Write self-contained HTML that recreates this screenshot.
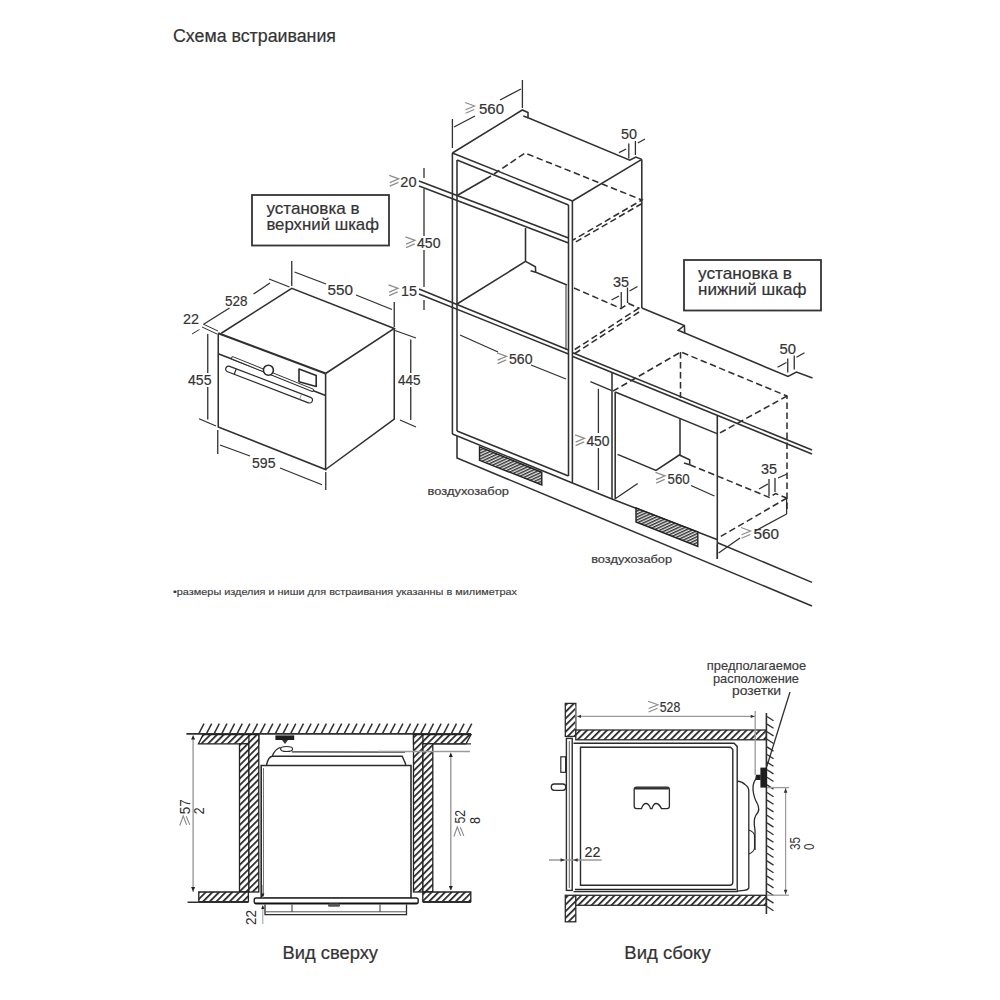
<!DOCTYPE html>
<html><head><meta charset="utf-8"><style>
html,body{margin:0;padding:0;background:#fff;}
svg{display:block;font-family:"Liberation Sans",sans-serif;}
</style></head><body>
<svg width="1000" height="1000" viewBox="0 0 1000 1000">
<rect width="1000" height="1000" fill="#fff"/>
<text x="173" y="42" font-size="17.5" fill="#333" text-anchor="start" textLength="163" lengthAdjust="spacingAndGlyphs" font-weight="normal"  stroke="#333" stroke-width="0.2">Схема встраивания</text>
<path d="M221.25,333.25 L291.75,288.25 L394.25,328.5 L325.6,373.5" fill="none" stroke="#303030" stroke-width="1.55" />
<path d="M218.25,333.25 L325.6,373.5" fill="none" stroke="#303030" stroke-width="2.0" />
<path d="M218.25,333.25 L218.25,427 L325.6,469.5 L325.6,373.5" fill="none" stroke="#303030" stroke-width="1.55" />
<path d="M325.6,469.5 L394.25,419 L394.25,328.5" fill="none" stroke="#303030" stroke-width="1.55" />
<path d="M218.25,353.8 L325.6,395.5" fill="none" stroke="#303030" stroke-width="1.6" />
<g transform="translate(231.7,357.6) rotate(22)"><rect x="0" y="-1.3" width="88" height="2.6" rx="1.3" fill="#fff" stroke="#2b2b2b" stroke-width="1.0"/></g>
<g transform="translate(225.9,368) rotate(21)"><rect x="0" y="-2.9" width="92.5" height="5.8" rx="2.9" fill="#fff" stroke="#2b2b2b" stroke-width="1.2"/><line x1="10" y1="-2.9" x2="10" y2="2.9" stroke="#2b2b2b" stroke-width="1.2"/><line x1="80" y1="-2.9" x2="80" y2="2.9" stroke="#888" stroke-width="0.8"/></g>
<circle cx="268.4" cy="370.2" r="5" fill="#fff" stroke="#2b2b2b" stroke-width="1.6"/>
<path d="M299,369.1 L316.2,375.5 L316.2,386.4 L299,381.8 Z" fill="#fff" stroke="#2b2b2b" stroke-width="1.6" stroke-linejoin="round"/>
<path d="M203,324 L218,331" fill="none" stroke="#303030" stroke-width="1.0" />
<path d="M202,327 L217,334" fill="none" stroke="#303030" stroke-width="1.0" />
<path d="M192,334 L199.5,329.5" fill="none" stroke="#303030" stroke-width="1.0" />
<text x="183" y="323.5" font-size="15.5" fill="#333" text-anchor="start" textLength="16" lengthAdjust="spacingAndGlyphs" font-weight="normal"  stroke="#333" stroke-width="0.2">22</text>
<path d="M204,324 L229.5,308" fill="none" stroke="#303030" stroke-width="1.3" />
<path d="M253.5,294 L270,283" fill="none" stroke="#303030" stroke-width="1.3" />
<path d="M269,279 L289.5,287" fill="none" stroke="#303030" stroke-width="1.3" />
<text x="225" y="305.5" font-size="15.5" fill="#333" text-anchor="start" textLength="22.5" lengthAdjust="spacingAndGlyphs" font-weight="normal"  stroke="#333" stroke-width="0.2">528</text>
<path d="M291.75,261 L291.75,286" fill="none" stroke="#303030" stroke-width="1.3" />
<path d="M394.25,302 L394.25,327" fill="none" stroke="#303030" stroke-width="1.3" />
<path d="M294.5,272 L326,284" fill="none" stroke="#303030" stroke-width="1.3" />
<path d="M356,295 L392,309.5" fill="none" stroke="#303030" stroke-width="1.3" />
<text x="327.5" y="294.5" font-size="15.5" fill="#333" text-anchor="start" textLength="25.5" lengthAdjust="spacingAndGlyphs" font-weight="normal"  stroke="#333" stroke-width="0.2">550</text>
<path d="M207.75,334 L207.75,373" fill="none" stroke="#303030" stroke-width="1.3" />
<path d="M207.75,387 L207.75,419.5" fill="none" stroke="#303030" stroke-width="1.3" />
<path d="M199,418.75 L216,426" fill="none" stroke="#303030" stroke-width="1.3" />
<text x="188" y="385" font-size="15.5" fill="#333" text-anchor="start" textLength="23.5" lengthAdjust="spacingAndGlyphs" font-weight="normal"  stroke="#333" stroke-width="0.2">455</text>
<path d="M217.75,430 L217.75,454" fill="none" stroke="#303030" stroke-width="1.3" />
<path d="M325.75,472 L325.75,490" fill="none" stroke="#303030" stroke-width="1.3" />
<path d="M220,445 L250,456" fill="none" stroke="#303030" stroke-width="1.3" />
<path d="M280,468 L322,484.75" fill="none" stroke="#303030" stroke-width="1.3" />
<text x="252" y="468" font-size="15.5" fill="#333" text-anchor="start" textLength="23.5" lengthAdjust="spacingAndGlyphs" font-weight="normal"  stroke="#333" stroke-width="0.2">595</text>
<path d="M395,330.5 L416,338" fill="none" stroke="#303030" stroke-width="1.3" />
<path d="M410.75,339.5 L410.75,373" fill="none" stroke="#303030" stroke-width="1.3" />
<path d="M410.75,387 L410.75,420" fill="none" stroke="#303030" stroke-width="1.3" />
<path d="M400,420 L416,427" fill="none" stroke="#303030" stroke-width="1.3" />
<text x="398" y="385.25" font-size="15.5" fill="#333" text-anchor="start" textLength="22.5" lengthAdjust="spacingAndGlyphs" font-weight="normal"  stroke="#333" stroke-width="0.2">445</text>
<rect x="252" y="195" width="137" height="50.5" fill="none" stroke="#333" stroke-width="1.8"/>
<text x="266.4" y="213.6" font-size="17" fill="#333" text-anchor="start" textLength="93.2" lengthAdjust="spacingAndGlyphs" font-weight="normal"  stroke="#333" stroke-width="0.2">установка в</text>
<text x="266.4" y="230" font-size="17" fill="#333" text-anchor="start" textLength="112.6" lengthAdjust="spacingAndGlyphs" font-weight="normal"  stroke="#333" stroke-width="0.2">верхний шкаф</text>
<path d="M452.4,153 L452.4,434" fill="none" stroke="#303030" stroke-width="1.55" />
<path d="M457,160 L457,431" fill="none" stroke="#303030" stroke-width="1.55" />
<path d="M572.4,201 L572.4,483" fill="none" stroke="#303030" stroke-width="1.55" />
<path d="M568.5,205 L568.5,476" fill="none" stroke="#303030" stroke-width="1.55" />
<path d="M452.4,153 L572.4,201" fill="none" stroke="#303030" stroke-width="1.55" />
<path d="M457,160 L568.5,205" fill="none" stroke="#303030" stroke-width="1.55" />
<path d="M452.4,153 L522.3,110 L528,112.6 L528,117.8 L629.8,160.2 L635.8,157 L641.8,159.4" fill="none" stroke="#303030" stroke-width="1.55" />
<path d="M523.3,116 L528,117.8" fill="none" stroke="#303030" stroke-width="1.5" />
<path d="M641.8,159.4 L641.8,308" fill="none" stroke="#303030" stroke-width="1.55" />
<path d="M572.4,201 L641.8,159.4" fill="none" stroke="#303030" stroke-width="1.55" />
<path d="M419,181 L568.5,238" fill="none" stroke="#303030" stroke-width="1.55" />
<path d="M419,186 L568.5,243" fill="none" stroke="#303030" stroke-width="1.55" />
<path d="M458,195 L491,176" fill="none" stroke="#303030" stroke-width="1.55" />
<path d="M494,174 L525,153 L642,200 L573,240" fill="none" stroke="#303030" stroke-width="1.55" stroke-dasharray="6.5 3.5" />
<path d="M642,203.5 L573,243.5" fill="none" stroke="#303030" stroke-width="1.55" stroke-dasharray="6.5 3.5" />
<path d="M525.5,228 L525.5,261.4" fill="none" stroke="#303030" stroke-width="1.55" />
<path d="M457,304 L525.5,261.4 L535.4,266.8 L535.7,272.2 L567,285" fill="none" stroke="#303030" stroke-width="1.55" />
<path d="M530.6,270.7 L535.7,272.2" fill="none" stroke="#303030" stroke-width="1.5" />
<path d="M566,285 L566,350" fill="none" stroke="#777" stroke-width="1.55" />
<path d="M419,289 L568.5,350" fill="none" stroke="#303030" stroke-width="1.55" />
<path d="M419,294 L568.5,354" fill="none" stroke="#303030" stroke-width="1.55" />
<path d="M574,288 L621,308.5 L628.5,303.5 L639.5,308.3" fill="none" stroke="#303030" stroke-width="1.55" stroke-dasharray="6.5 3.5" />
<path d="M639,308 L574,350" fill="none" stroke="#303030" stroke-width="1.55" stroke-dasharray="6.5 3.5" />
<path d="M639,312 L574,354" fill="none" stroke="#303030" stroke-width="1.55" stroke-dasharray="6.5 3.5" />
<path d="M452.4,434 L572.4,483 L612,499 L717.6,539.8" fill="none" stroke="#303030" stroke-width="1.55" />
<path d="M717.6,542.8 L812,582.4" fill="none" stroke="#303030" stroke-width="1.55" />
<path d="M457,431 L568.5,476" fill="none" stroke="#303030" stroke-width="1.55" />
<path d="M457,436 L457,458 L812,606" fill="none" stroke="#303030" stroke-width="1.55" />
<defs><pattern id="vh" patternUnits="userSpaceOnUse" width="2.7" height="2.7" patternTransform="rotate(65)"><rect width="2.7" height="2.7" fill="#e8e8e8"/><rect width="1.4" height="2.7" fill="#333"/></pattern><pattern id="hh" patternUnits="userSpaceOnUse" width="6.5" height="6.5" patternTransform="rotate(45)"><rect width="6.5" height="6.5" fill="#fff"/><rect width="1.5" height="6.5" fill="#2b2b2b"/></pattern><pattern id="hh2" patternUnits="userSpaceOnUse" width="4.7" height="4.7" patternTransform="rotate(45)"><rect width="4.7" height="4.7" fill="#fff"/><rect width="1.7" height="4.7" fill="#222"/></pattern></defs>
<path d="M479.5,446.8 L541.8,472.3 L541.8,485 L479.5,460.3 Z" fill="url(#vh)" stroke="#222" stroke-width="1.4"/>
<path d="M636,508 L697.8,532 L697.8,546.4 L636,522 Z" fill="url(#vh)" stroke="#222" stroke-width="1.4"/>
<text x="427.6" y="495.3" font-size="11" fill="#3a3a3a" text-anchor="start" textLength="81.4" lengthAdjust="spacingAndGlyphs" font-weight="normal" stroke="#3a3a3a" stroke-width="0.2">воздухозабор</text>
<text x="591.2" y="563" font-size="11" fill="#3a3a3a" text-anchor="start" textLength="80.9" lengthAdjust="spacingAndGlyphs" font-weight="normal" stroke="#3a3a3a" stroke-width="0.2">воздухозабор</text>
<path d="M452.4,119 L452.4,148" fill="none" stroke="#303030" stroke-width="1.3" />
<path d="M522.4,80 L522.4,108" fill="none" stroke="#303030" stroke-width="1.3" />
<path d="M454,127 L475,116" fill="none" stroke="#303030" stroke-width="1.3" />
<path d="M500,100 L521,89" fill="none" stroke="#303030" stroke-width="1.3" />
<path d="M465.0,102.5 L474.6,106.0 L465.6,109.7 M465.6,113.2 L474.2,109.5" fill="none" stroke="#8c8c8c" stroke-width="1.15"/>
<text x="479" y="113.6" font-size="15.5" fill="#333" text-anchor="start" textLength="25" lengthAdjust="spacingAndGlyphs" font-weight="normal"  stroke="#333" stroke-width="0.2">560</text>
<path d="M424,168 L424,178" fill="none" stroke="#303030" stroke-width="1.3" />
<path d="M424,189 L424,236" fill="none" stroke="#303030" stroke-width="1.3" />
<path d="M424,250 L424,287" fill="none" stroke="#303030" stroke-width="1.3" />
<path d="M424,300 L424,310" fill="none" stroke="#303030" stroke-width="1.3" />
<path d="M389.2,175.4 L398.8,178.9 L389.8,182.6 M389.8,186.1 L398.4,182.4" fill="none" stroke="#8c8c8c" stroke-width="1.15"/>
<text x="400.3" y="186.5" font-size="15.5" fill="#333" text-anchor="start" textLength="16.2" lengthAdjust="spacingAndGlyphs" font-weight="normal"  stroke="#333" stroke-width="0.2">20</text>
<path d="M405.5,236.9 L415.1,240.4 L406.1,244.1 M406.1,247.6 L414.7,243.9" fill="none" stroke="#8c8c8c" stroke-width="1.15"/>
<text x="417" y="248" font-size="15.5" fill="#333" text-anchor="start" textLength="23.5" lengthAdjust="spacingAndGlyphs" font-weight="normal"  stroke="#333" stroke-width="0.2">450</text>
<path d="M388.5,284.9 L398.1,288.4 L389.1,292.1 M389.1,295.6 L397.7,291.9" fill="none" stroke="#8c8c8c" stroke-width="1.15"/>
<text x="401" y="296" font-size="15.5" fill="#333" text-anchor="start" textLength="16" lengthAdjust="spacingAndGlyphs" font-weight="normal"  stroke="#333" stroke-width="0.2">15</text>
<text x="621" y="139" font-size="15.5" fill="#333" text-anchor="start" textLength="16" lengthAdjust="spacingAndGlyphs" font-weight="normal"  stroke="#333" stroke-width="0.2">50</text>
<path d="M628.8,143.4 L628.8,158.6" fill="none" stroke="#303030" stroke-width="1.3" />
<path d="M635.4,141 L635.4,155" fill="none" stroke="#303030" stroke-width="1.3" />
<path d="M619,152.6 L626.2,149" fill="none" stroke="#303030" stroke-width="1.3" />
<path d="M637.8,143 L645,139" fill="none" stroke="#303030" stroke-width="1.3" />
<text x="613" y="287" font-size="15.5" fill="#333" text-anchor="start" textLength="16" lengthAdjust="spacingAndGlyphs" font-weight="normal"  stroke="#333" stroke-width="0.2">35</text>
<path d="M621.25,292 L621.25,307" fill="none" stroke="#303030" stroke-width="1.3" />
<path d="M627.5,287.5 L627.5,303" fill="none" stroke="#303030" stroke-width="1.3" />
<path d="M611.5,300 L619,296" fill="none" stroke="#303030" stroke-width="1.3" />
<path d="M629.5,291 L637.5,286.5" fill="none" stroke="#303030" stroke-width="1.3" />
<path d="M460,335 L498,352" fill="none" stroke="#303030" stroke-width="1.3" />
<path d="M531,365 L566,379" fill="none" stroke="#303030" stroke-width="1.3" />
<path d="M497.0,352.9 L506.6,356.4 L497.6,360.1 M497.6,363.6 L506.2,359.9" fill="none" stroke="#8c8c8c" stroke-width="1.15"/>
<text x="509" y="364" font-size="15.5" fill="#333" text-anchor="start" textLength="23.5" lengthAdjust="spacingAndGlyphs" font-weight="normal"  stroke="#333" stroke-width="0.2">560</text>
<rect x="684" y="260" width="137" height="50.5" fill="none" stroke="#333" stroke-width="1.8"/>
<text x="698" y="279" font-size="17" fill="#333" text-anchor="start" textLength="94" lengthAdjust="spacingAndGlyphs" font-weight="normal"  stroke="#333" stroke-width="0.2">установка в</text>
<text x="698" y="295" font-size="17" fill="#333" text-anchor="start" textLength="108.5" lengthAdjust="spacingAndGlyphs" font-weight="normal"  stroke="#333" stroke-width="0.2">нижний шкаф</text>
<path d="M641.8,308 L684.4,325.5 L684.7,333 L788,376.5 L796.5,372 L812.5,378" fill="none" stroke="#303030" stroke-width="1.55" />
<path d="M684.4,325.5 L678.1,330.3 L684.7,333" fill="none" stroke="#303030" stroke-width="1.5" />
<path d="M572.8,352.8 L812,450" fill="none" stroke="#303030" stroke-width="1.55" />
<path d="M572.8,356.5 L812,454" fill="none" stroke="#303030" stroke-width="1.55" />
<path d="M612,372.8 L612,499" fill="none" stroke="#303030" stroke-width="1.55" />
<path d="M615.2,392 L615.2,499" fill="none" stroke="#303030" stroke-width="1.55" />
<path d="M615.2,392 L717,433.6" fill="none" stroke="#303030" stroke-width="1.55" />
<path d="M717.3,416 L717.3,559" fill="none" stroke="#303030" stroke-width="1.55" />
<path d="M680,419 L680,455" fill="none" stroke="#303030" stroke-width="1.55" />
<path d="M617.6,454.4 L656,470.4 L679.3,455 L689.7,459.8 L689.7,464.7" fill="none" stroke="#303030" stroke-width="1.55" />
<path d="M684,463 L689.7,464.7" fill="none" stroke="#303030" stroke-width="1.5" />
<path d="M612.8,391.2 L680.8,352 L787,396 L787,512" fill="none" stroke="#303030" stroke-width="1.55" stroke-dasharray="6.5 3.5" />
<path d="M680.5,352 L680.5,398" fill="none" stroke="#303030" stroke-width="1.55" stroke-dasharray="6.5 3.5" />
<path d="M787,396 L718,434" fill="none" stroke="#303030" stroke-width="1.55" stroke-dasharray="6.5 3.5" />
<path d="M689.7,464.7 L769.5,497.5 L775.5,493.5 L786.6,498" fill="none" stroke="#303030" stroke-width="1.55" stroke-dasharray="6.5 3.5" />
<path d="M787,498 L718,538" fill="none" stroke="#303030" stroke-width="1.55" stroke-dasharray="6.5 3.5" />
<path d="M590.4,381.6 L611.2,390.4" fill="none" stroke="#303030" stroke-width="1.3" />
<path d="M598.4,388.8 L598.4,433" fill="none" stroke="#303030" stroke-width="1.3" />
<path d="M598.4,448 L598.4,490" fill="none" stroke="#303030" stroke-width="1.3" />
<path d="M575.0,434.9 L584.6,438.4 L575.6,442.1 M575.6,445.6 L584.2,441.9" fill="none" stroke="#8c8c8c" stroke-width="1.15"/>
<text x="586.4" y="446" font-size="15.5" fill="#333" text-anchor="start" textLength="23.2" lengthAdjust="spacingAndGlyphs" font-weight="normal"  stroke="#333" stroke-width="0.2">450</text>
<text x="779.5" y="353.5" font-size="15.5" fill="#333" text-anchor="start" textLength="16.5" lengthAdjust="spacingAndGlyphs" font-weight="normal"  stroke="#333" stroke-width="0.2">50</text>
<path d="M787.75,358.5 L787.75,372.5" fill="none" stroke="#303030" stroke-width="1.3" />
<path d="M794.25,355.5 L794.25,369.5" fill="none" stroke="#303030" stroke-width="1.3" />
<path d="M777.5,367.25 L786.5,362.5" fill="none" stroke="#303030" stroke-width="1.3" />
<path d="M796.5,357.25 L804.5,352.75" fill="none" stroke="#303030" stroke-width="1.3" />
<text x="761" y="474" font-size="15.5" fill="#333" text-anchor="start" textLength="16" lengthAdjust="spacingAndGlyphs" font-weight="normal"  stroke="#333" stroke-width="0.2">35</text>
<path d="M769,479 L769,496" fill="none" stroke="#303030" stroke-width="1.3" />
<path d="M775,478 L775,492" fill="none" stroke="#303030" stroke-width="1.3" />
<path d="M759,489 L768,484" fill="none" stroke="#303030" stroke-width="1.3" />
<path d="M778,478 L787,474" fill="none" stroke="#303030" stroke-width="1.3" />
<path d="M615.6,498.5 L637.7,483.5" fill="none" stroke="#303030" stroke-width="1.3" />
<path d="M691,485.5 L714.4,496" fill="none" stroke="#303030" stroke-width="1.3" />
<path d="M655.5,472.4 L665.1,475.9 L656.1,479.6 M656.1,483.1 L664.7,479.4" fill="none" stroke="#8c8c8c" stroke-width="1.15"/>
<text x="667.6" y="483.5" font-size="15.5" fill="#333" text-anchor="start" textLength="22.1" lengthAdjust="spacingAndGlyphs" font-weight="normal"  stroke="#333" stroke-width="0.2">560</text>
<path d="M786.6,514 L755,531" fill="none" stroke="#303030" stroke-width="1.3" />
<path d="M740,538 L718.6,553" fill="none" stroke="#303030" stroke-width="1.3" />
<path d="M786.6,498 L786.6,514" fill="none" stroke="#303030" stroke-width="1.3" />
<path d="M717.3,544.6 L717.3,559" fill="none" stroke="#303030" stroke-width="1.3" />
<path d="M741.0,527.5 L750.6,531.0 L741.6,534.7 M741.6,538.2 L750.2,534.5" fill="none" stroke="#8c8c8c" stroke-width="1.15"/>
<text x="753.5" y="538.6" font-size="15.5" fill="#333" text-anchor="start" textLength="25.5" lengthAdjust="spacingAndGlyphs" font-weight="normal"  stroke="#333" stroke-width="0.2">560</text>
<text x="173" y="595.2" font-size="9.8" fill="#3a3a3a" text-anchor="start" textLength="344" lengthAdjust="spacingAndGlyphs" font-weight="normal" stroke="#3a3a3a" stroke-width="0.15">•размеры изделия и ниши для встраивания указанны в милиметрах</text>
<path d="M199.0,733.4 L204.0,723.6" fill="none" stroke="#303030" stroke-width="1.5" />
<path d="M206.65,733.4 L211.65,723.6" fill="none" stroke="#303030" stroke-width="1.5" />
<path d="M214.3,733.4 L219.3,723.6" fill="none" stroke="#303030" stroke-width="1.5" />
<path d="M221.95000000000002,733.4 L226.95000000000002,723.6" fill="none" stroke="#303030" stroke-width="1.5" />
<path d="M229.60000000000002,733.4 L234.60000000000002,723.6" fill="none" stroke="#303030" stroke-width="1.5" />
<path d="M237.25000000000003,733.4 L242.25000000000003,723.6" fill="none" stroke="#303030" stroke-width="1.5" />
<path d="M244.90000000000003,733.4 L249.90000000000003,723.6" fill="none" stroke="#303030" stroke-width="1.5" />
<path d="M252.55000000000004,733.4 L257.55000000000007,723.6" fill="none" stroke="#303030" stroke-width="1.5" />
<path d="M260.20000000000005,733.4 L265.20000000000005,723.6" fill="none" stroke="#303030" stroke-width="1.5" />
<path d="M267.85,733.4 L272.85,723.6" fill="none" stroke="#303030" stroke-width="1.5" />
<path d="M275.5,733.4 L280.5,723.6" fill="none" stroke="#303030" stroke-width="1.5" />
<path d="M283.15,733.4 L288.15,723.6" fill="none" stroke="#303030" stroke-width="1.5" />
<path d="M290.79999999999995,733.4 L295.79999999999995,723.6" fill="none" stroke="#303030" stroke-width="1.5" />
<path d="M298.44999999999993,733.4 L303.44999999999993,723.6" fill="none" stroke="#303030" stroke-width="1.5" />
<path d="M306.0999999999999,733.4 L311.0999999999999,723.6" fill="none" stroke="#303030" stroke-width="1.5" />
<path d="M313.7499999999999,733.4 L318.7499999999999,723.6" fill="none" stroke="#303030" stroke-width="1.5" />
<path d="M321.39999999999986,733.4 L326.39999999999986,723.6" fill="none" stroke="#303030" stroke-width="1.5" />
<path d="M329.04999999999984,733.4 L334.04999999999984,723.6" fill="none" stroke="#303030" stroke-width="1.5" />
<path d="M336.6999999999998,733.4 L341.6999999999998,723.6" fill="none" stroke="#303030" stroke-width="1.5" />
<path d="M344.3499999999998,733.4 L349.3499999999998,723.6" fill="none" stroke="#303030" stroke-width="1.5" />
<path d="M351.9999999999998,733.4 L356.9999999999998,723.6" fill="none" stroke="#303030" stroke-width="1.5" />
<path d="M359.64999999999975,733.4 L364.64999999999975,723.6" fill="none" stroke="#303030" stroke-width="1.5" />
<path d="M367.2999999999997,733.4 L372.2999999999997,723.6" fill="none" stroke="#303030" stroke-width="1.5" />
<path d="M374.9499999999997,733.4 L379.9499999999997,723.6" fill="none" stroke="#303030" stroke-width="1.5" />
<path d="M382.5999999999997,733.4 L387.5999999999997,723.6" fill="none" stroke="#303030" stroke-width="1.5" />
<path d="M390.24999999999966,733.4 L395.24999999999966,723.6" fill="none" stroke="#303030" stroke-width="1.5" />
<path d="M397.89999999999964,733.4 L402.89999999999964,723.6" fill="none" stroke="#303030" stroke-width="1.5" />
<path d="M405.5499999999996,733.4 L410.5499999999996,723.6" fill="none" stroke="#303030" stroke-width="1.5" />
<path d="M413.1999999999996,733.4 L418.1999999999996,723.6" fill="none" stroke="#303030" stroke-width="1.5" />
<path d="M420.84999999999957,733.4 L425.84999999999957,723.6" fill="none" stroke="#303030" stroke-width="1.5" />
<path d="M428.49999999999955,733.4 L433.49999999999955,723.6" fill="none" stroke="#303030" stroke-width="1.5" />
<path d="M436.1499999999995,733.4 L441.1499999999995,723.6" fill="none" stroke="#303030" stroke-width="1.5" />
<path d="M443.7999999999995,733.4 L448.7999999999995,723.6" fill="none" stroke="#303030" stroke-width="1.5" />
<path d="M451.4499999999995,733.4 L456.4499999999995,723.6" fill="none" stroke="#303030" stroke-width="1.5" />
<path d="M459.09999999999945,733.4 L464.09999999999945,723.6" fill="none" stroke="#303030" stroke-width="1.5" />
<path d="M466.74999999999943,733.4 L471.74999999999943,723.6" fill="none" stroke="#303030" stroke-width="1.5" />
<path d="M186.4,733.9 L471,733.9" fill="none" stroke="#303030" stroke-width="1.8" />
<path d="M203,734.6 L258.8,734.6 L258.8,743.8 L198.5,743.8 Z" fill="url(#hh2)" stroke="#222" stroke-width="1.3"/>
<path d="M413.5,734.6 L471,734.6 L466,743.8 L413.5,743.8 Z" fill="url(#hh2)" stroke="#222" stroke-width="1.3"/>
<path d="M413.5,743.8 L471,743.8" fill="none" stroke="#303030" stroke-width="1.3" />
<rect x="239.5" y="743.8" width="9.4" height="148.2" fill="url(#hh2)" stroke="#222" stroke-width="1.3"/>
<rect x="248.9" y="734.6" width="9.9" height="157.4" fill="url(#hh2)" stroke="#222" stroke-width="1.3"/>
<rect x="413.5" y="734.6" width="9.4" height="157.4" fill="url(#hh2)" stroke="#222" stroke-width="1.3"/>
<rect x="422.9" y="743.8" width="9.9" height="148.2" fill="url(#hh2)" stroke="#222" stroke-width="1.3"/>
<path d="M198.8,892 L248.4,892 L248.4,901.6 L198.8,901.6 Z" fill="url(#hh2)" stroke="#222" stroke-width="1.3"/>
<path d="M422.8,892 L470.8,892 L470.8,901.6 L422.8,901.6 Z" fill="url(#hh2)" stroke="#222" stroke-width="1.3"/>
<path d="M187.6,902.2 L248.4,902.2" fill="none" stroke="#303030" stroke-width="1.4" />
<path d="M422.8,902.2 L471,902.2" fill="none" stroke="#303030" stroke-width="1.4" />
<path d="M261.2,765.5 L411,765.5 L411,898.4 L261.2,898.4 Z" fill="#fff" stroke="#2b2b2b" stroke-width="1.6"/>
<path d="M263.5,768 L263.5,896" fill="none" stroke="#666" stroke-width="0.9" />
<path d="M266.5,765.5 Q268,757 272.2,756.2 L402.2,756.2 L405.5,763.6 L405.5,765.5" fill="none" stroke="#2b2b2b" stroke-width="1.4"/>
<path d="M272.2,756.2 Q275,749 280.6,747.4" fill="none" stroke="#2b2b2b" stroke-width="1.2"/>
<path d="M291.8,751.8 L405,752.2" fill="none" stroke="#303030" stroke-width="1.2" />
<rect x="275.4" y="735.4" width="18.8" height="4.6" fill="#1e1e1e"/>
<path d="M282,740 L288,740 L285,744 Z" fill="#333"/>
<ellipse cx="286.6" cy="749" rx="6" ry="2.5" fill="#fff" stroke="#2b2b2b" stroke-width="1.2"/>
<rect x="254.2" y="898" width="164" height="5.8" rx="2" fill="#fff" stroke="#1e1e1e" stroke-width="1.4"/>
<path d="M255,903.2 L417.5,903.2" fill="none" stroke="#111" stroke-width="1.6" />
<path d="M265,904.5 L265,914.6 L406.5,914.6 L406.5,904.5" fill="none" stroke="#2b2b2b" stroke-width="1.3"/>
<path d="M265,911.8 L406.5,911.8" fill="none" stroke="#555" stroke-width="1.0" />
<path d="M292,904.5 L292,911.8" fill="none" stroke="#303030" stroke-width="1.0" />
<path d="M380,904.5 L380,911.8" fill="none" stroke="#303030" stroke-width="1.0" />
<rect x="328" y="903.5" width="12" height="3.2" rx="1.5" fill="#555"/>
<path d="M193.1,737 L193.1,892" fill="none" stroke="#9a9a9a" stroke-width="1.4" />
<path d="M193.1,735 l-2,4.5 l4,0 Z M193.1,891.6 l-2,-4.5 l4,0 Z" fill="#222"/>
<text transform="translate(190,814.2) rotate(-90)" font-size="14" fill="#2b2b2b" textLength="15" lengthAdjust="spacingAndGlyphs">57</text>
<text transform="translate(204.2,814.2) rotate(-90)" font-size="14" fill="#2b2b2b" textLength="6.8" lengthAdjust="spacingAndGlyphs">2</text>
<g transform="translate(190.4,825.5) rotate(-90)"><path d="M0,-10.6 L9.6,-7.2 L0.6,-3.8 M0.6,-0.6 L9.2,-4.2" fill="none" stroke="#8c8c8c" stroke-width="1.15"/></g>
<path d="M378,751.5 L470,751.5" fill="none" stroke="#9a9a9a" stroke-width="1.3" />
<path d="M450.8,754 L450.8,890" fill="none" stroke="#9a9a9a" stroke-width="1.4" />
<path d="M450.8,752.5 l-2,4.5 l4,0 Z M450.8,890.6 l-2,-4.5 l4,0 Z" fill="#222"/>
<text transform="translate(464.5,823.5) rotate(-90)" font-size="14" fill="#2b2b2b" textLength="13.5" lengthAdjust="spacingAndGlyphs">52</text>
<text transform="translate(479.5,824) rotate(-90)" font-size="14" fill="#2b2b2b" textLength="7" lengthAdjust="spacingAndGlyphs">8</text>
<g transform="translate(464.5,836.5) rotate(-90)"><path d="M0,-10.6 L9.6,-7.2 L0.6,-3.8 M0.6,-0.6 L9.2,-4.2" fill="none" stroke="#8c8c8c" stroke-width="1.15"/></g>
<path d="M262.8,885 L262.8,898" fill="none" stroke="#9a9a9a" stroke-width="1.0" />
<path d="M262.8,906 L262.8,924" fill="none" stroke="#9a9a9a" stroke-width="1.0" />
<path d="M262.8,897.5 l-1.6,-4 l3.2,0 Z M262.8,905 l-1.6,4 l3.2,0 Z" fill="#222"/>
<text transform="translate(256,925) rotate(-90)" font-size="14" fill="#2b2b2b" textLength="15" lengthAdjust="spacingAndGlyphs">22</text>
<text x="282.4" y="959" font-size="17.5" fill="#333" text-anchor="start" textLength="95.6" lengthAdjust="spacingAndGlyphs" font-weight="normal"  stroke="#333" stroke-width="0.2">Вид сверху</text>
<rect x="565.3" y="703.4" width="10.5" height="33" fill="url(#hh2)" stroke="#2b2b2b" stroke-width="1.3"/>
<rect x="565.3" y="895.3" width="10.5" height="26.5" fill="url(#hh2)" stroke="#2b2b2b" stroke-width="1.3"/>
<rect x="575.8" y="730" width="190.6" height="9.8" fill="url(#hh2)" stroke="#2b2b2b" stroke-width="1.3"/>
<rect x="575.8" y="895.3" width="190.6" height="10" fill="url(#hh2)" stroke="#2b2b2b" stroke-width="1.3"/>
<path d="M766.4,713 L766.4,914" fill="none" stroke="#303030" stroke-width="1.6" />
<path d="M767,716.5 L773.5,720.7" fill="none" stroke="#303030" stroke-width="1.3" />
<path d="M767,724.1 L773.5,728.3000000000001" fill="none" stroke="#303030" stroke-width="1.3" />
<path d="M767,731.7 L773.5,735.9000000000001" fill="none" stroke="#303030" stroke-width="1.3" />
<path d="M767,739.3000000000001 L773.5,743.5000000000001" fill="none" stroke="#303030" stroke-width="1.3" />
<path d="M767,746.9000000000001 L773.5,751.1000000000001" fill="none" stroke="#303030" stroke-width="1.3" />
<path d="M767,754.5000000000001 L773.5,758.7000000000002" fill="none" stroke="#303030" stroke-width="1.3" />
<path d="M767,762.1000000000001 L773.5,766.3000000000002" fill="none" stroke="#303030" stroke-width="1.3" />
<path d="M767,769.7000000000002 L773.5,773.9000000000002" fill="none" stroke="#303030" stroke-width="1.3" />
<path d="M767,777.3000000000002 L773.5,781.5000000000002" fill="none" stroke="#303030" stroke-width="1.3" />
<path d="M767,784.9000000000002 L773.5,789.1000000000003" fill="none" stroke="#303030" stroke-width="1.3" />
<path d="M767,792.5000000000002 L773.5,796.7000000000003" fill="none" stroke="#303030" stroke-width="1.3" />
<path d="M767,800.1000000000003 L773.5,804.3000000000003" fill="none" stroke="#303030" stroke-width="1.3" />
<path d="M767,807.7000000000003 L773.5,811.9000000000003" fill="none" stroke="#303030" stroke-width="1.3" />
<path d="M767,815.3000000000003 L773.5,819.5000000000003" fill="none" stroke="#303030" stroke-width="1.3" />
<path d="M767,822.9000000000003 L773.5,827.1000000000004" fill="none" stroke="#303030" stroke-width="1.3" />
<path d="M767,830.5000000000003 L773.5,834.7000000000004" fill="none" stroke="#303030" stroke-width="1.3" />
<path d="M767,838.1000000000004 L773.5,842.3000000000004" fill="none" stroke="#303030" stroke-width="1.3" />
<path d="M767,845.7000000000004 L773.5,849.9000000000004" fill="none" stroke="#303030" stroke-width="1.3" />
<path d="M767,853.3000000000004 L773.5,857.5000000000005" fill="none" stroke="#303030" stroke-width="1.3" />
<path d="M767,860.9000000000004 L773.5,865.1000000000005" fill="none" stroke="#303030" stroke-width="1.3" />
<path d="M767,868.5000000000005 L773.5,872.7000000000005" fill="none" stroke="#303030" stroke-width="1.3" />
<path d="M767,876.1000000000005 L773.5,880.3000000000005" fill="none" stroke="#303030" stroke-width="1.3" />
<path d="M767,883.7000000000005 L773.5,887.9000000000005" fill="none" stroke="#303030" stroke-width="1.3" />
<path d="M767,891.3000000000005 L773.5,895.5000000000006" fill="none" stroke="#303030" stroke-width="1.3" />
<path d="M767,898.9000000000005 L773.5,903.1000000000006" fill="none" stroke="#303030" stroke-width="1.3" />
<path d="M767,906.5000000000006 L773.5,910.7000000000006" fill="none" stroke="#303030" stroke-width="1.3" />
<path d="M573.5,743.2 L734,743.2 L737.2,746.4 L737.2,891.6 L573.5,891.6" fill="none" stroke="#2b2b2b" stroke-width="1.4"/>
<path d="M580.5,747.2 L730.5,747.2 L732.8,749.5 L732.8,882 Q732.8,885.2 729.6,885.2 L580.5,885.2 Z" fill="#fff" stroke="#2b2b2b" stroke-width="1.4"/>
<path d="M575,889.5 L736,889.5" fill="none" stroke="#222" stroke-width="1.6" />
<path d="M737.2,781.2 Q742,781.5 745,784.5 Q748.8,787 748.8,791 L748.8,888 Q748,890 744,890.4 L737.2,891.2" fill="none" stroke="#2b2b2b" stroke-width="1.3"/>
<path d="M748.8,830 Q754.5,832 754.5,836 L754.5,848 Q754,852 748.8,854" fill="none" stroke="#2b2b2b" stroke-width="1.1"/>
<rect x="760.4" y="767.6" width="6.6" height="20" fill="#1e1e1e"/>
<path d="M756,774.8 L760.6,774.8 L760.6,780 L755,780 Z" fill="#1e1e1e"/>
<path d="M757,778 Q752.5,782 753,790 Q754,798 757,803 Q761,810 756,815 Q753,820 755,830 L755,850" fill="none" stroke="#2b2b2b" stroke-width="1.3"/>
<rect x="566.4" y="738.4" width="5.8" height="152" fill="#fff" stroke="#2b2b2b" stroke-width="1.4"/>
<path d="M569.3,741 L569.3,888" fill="none" stroke="#555" stroke-width="0.9" />
<rect x="560.8" y="756.8" width="4.8" height="15.5" fill="#fff" stroke="#2b2b2b" stroke-width="1.2"/>
<rect x="551.3" y="784" width="14.5" height="6.3" rx="3" fill="#fff" stroke="#2b2b2b" stroke-width="1.3"/>
<path d="M634.2,789.5 Q634.2,787.2 636.5,787.2 L667.2,787.2 Q669.4,787.2 669.4,789.5 L669.4,806.2 Q669.4,808.6 667,808.6 L661.5,808.6 Q659,803.5 656,803.5 Q653.5,803.5 652,808.6 L650.5,808.6 Q649,803.5 646,803.5 Q643,803.5 641.5,808.6 L636.5,808.6 Q634.2,808.6 634.2,806.2 Z" fill="#fff" stroke="#2b2b2b" stroke-width="1.3"/>
<path d="M635,788.4 L668.6,788.4" fill="none" stroke="#303030" stroke-width="2.2" />
<path d="M577.5,716.4 L755.2,716.4" fill="none" stroke="#9a9a9a" stroke-width="1.2" />
<path d="M576,706 L576,729" fill="none" stroke="#9a9a9a" stroke-width="1.3" />
<path d="M755.2,711 L755.2,775" fill="none" stroke="#9a9a9a" stroke-width="1.3" />
<path d="M577,716.4 l4,-1.6 l0,3.2 Z M754.7,716.4 l-4,-1.6 l0,3.2 Z" fill="#333"/>
<path d="M648.0,701.3 L658.0,704.8 L648.6,708.5 M648.6,712.0 L657.6,708.3" fill="none" stroke="#8c8c8c" stroke-width="1.15"/>
<text x="659.8" y="712.4" font-size="14.5" fill="#333" text-anchor="start" textLength="20.4" lengthAdjust="spacingAndGlyphs" font-weight="normal"  stroke="#333" stroke-width="0.2">528</text>
<path d="M549,860 L601.6,860" fill="none" stroke="#9a9a9a" stroke-width="1.3" />
<path d="M565,860 l-4.5,-1.8 l0,3.6 Z M573.2,860 l4.5,-1.8 l0,3.6 Z" fill="#333"/>
<text x="584.4" y="856.8" font-size="14.5" fill="#333" text-anchor="start" textLength="16" lengthAdjust="spacingAndGlyphs" font-weight="normal"  stroke="#333" stroke-width="0.2">22</text>
<path d="M785.6,787.6 L785.6,894.6" fill="none" stroke="#9a9a9a" stroke-width="1.2" />
<path d="M767,787.6 L789,787.6" fill="none" stroke="#9a9a9a" stroke-width="1.3" />
<path d="M767,895.2 L789,895.2" fill="none" stroke="#9a9a9a" stroke-width="1.3" />
<path d="M785.6,788.2 l-1.8,4.5 l3.6,0 Z M785.6,894.2 l-1.8,-4.5 l3.6,0 Z" fill="#333"/>
<text transform="translate(800,850) rotate(-90)" font-size="14" fill="#333" textLength="13" lengthAdjust="spacingAndGlyphs">35</text>
<text transform="translate(814,850) rotate(-90)" font-size="14" fill="#333" textLength="6.5" lengthAdjust="spacingAndGlyphs">0</text>
<path d="M790,692 L766.8,766.5" fill="none" stroke="#303030" stroke-width="1.3" />
<text x="756.5" y="670.3" font-size="12.2" fill="#3a3a3a" text-anchor="middle" textLength="99.4" lengthAdjust="spacingAndGlyphs" font-weight="normal" stroke="#3a3a3a" stroke-width="0.15">предполагаемое</text>
<text x="756" y="682.5" font-size="12.2" fill="#3a3a3a" text-anchor="middle" textLength="86" lengthAdjust="spacingAndGlyphs" font-weight="normal" stroke="#3a3a3a" stroke-width="0.15">расположение</text>
<text x="756.5" y="694.8" font-size="12.2" fill="#3a3a3a" text-anchor="middle" textLength="49" lengthAdjust="spacingAndGlyphs" font-weight="normal" stroke="#3a3a3a" stroke-width="0.15">розетки</text>
<text x="624.3" y="958.9" font-size="17.5" fill="#333" text-anchor="start" textLength="86.4" lengthAdjust="spacingAndGlyphs" font-weight="normal"  stroke="#333" stroke-width="0.2">Вид сбоку</text>
</svg></body></html>
